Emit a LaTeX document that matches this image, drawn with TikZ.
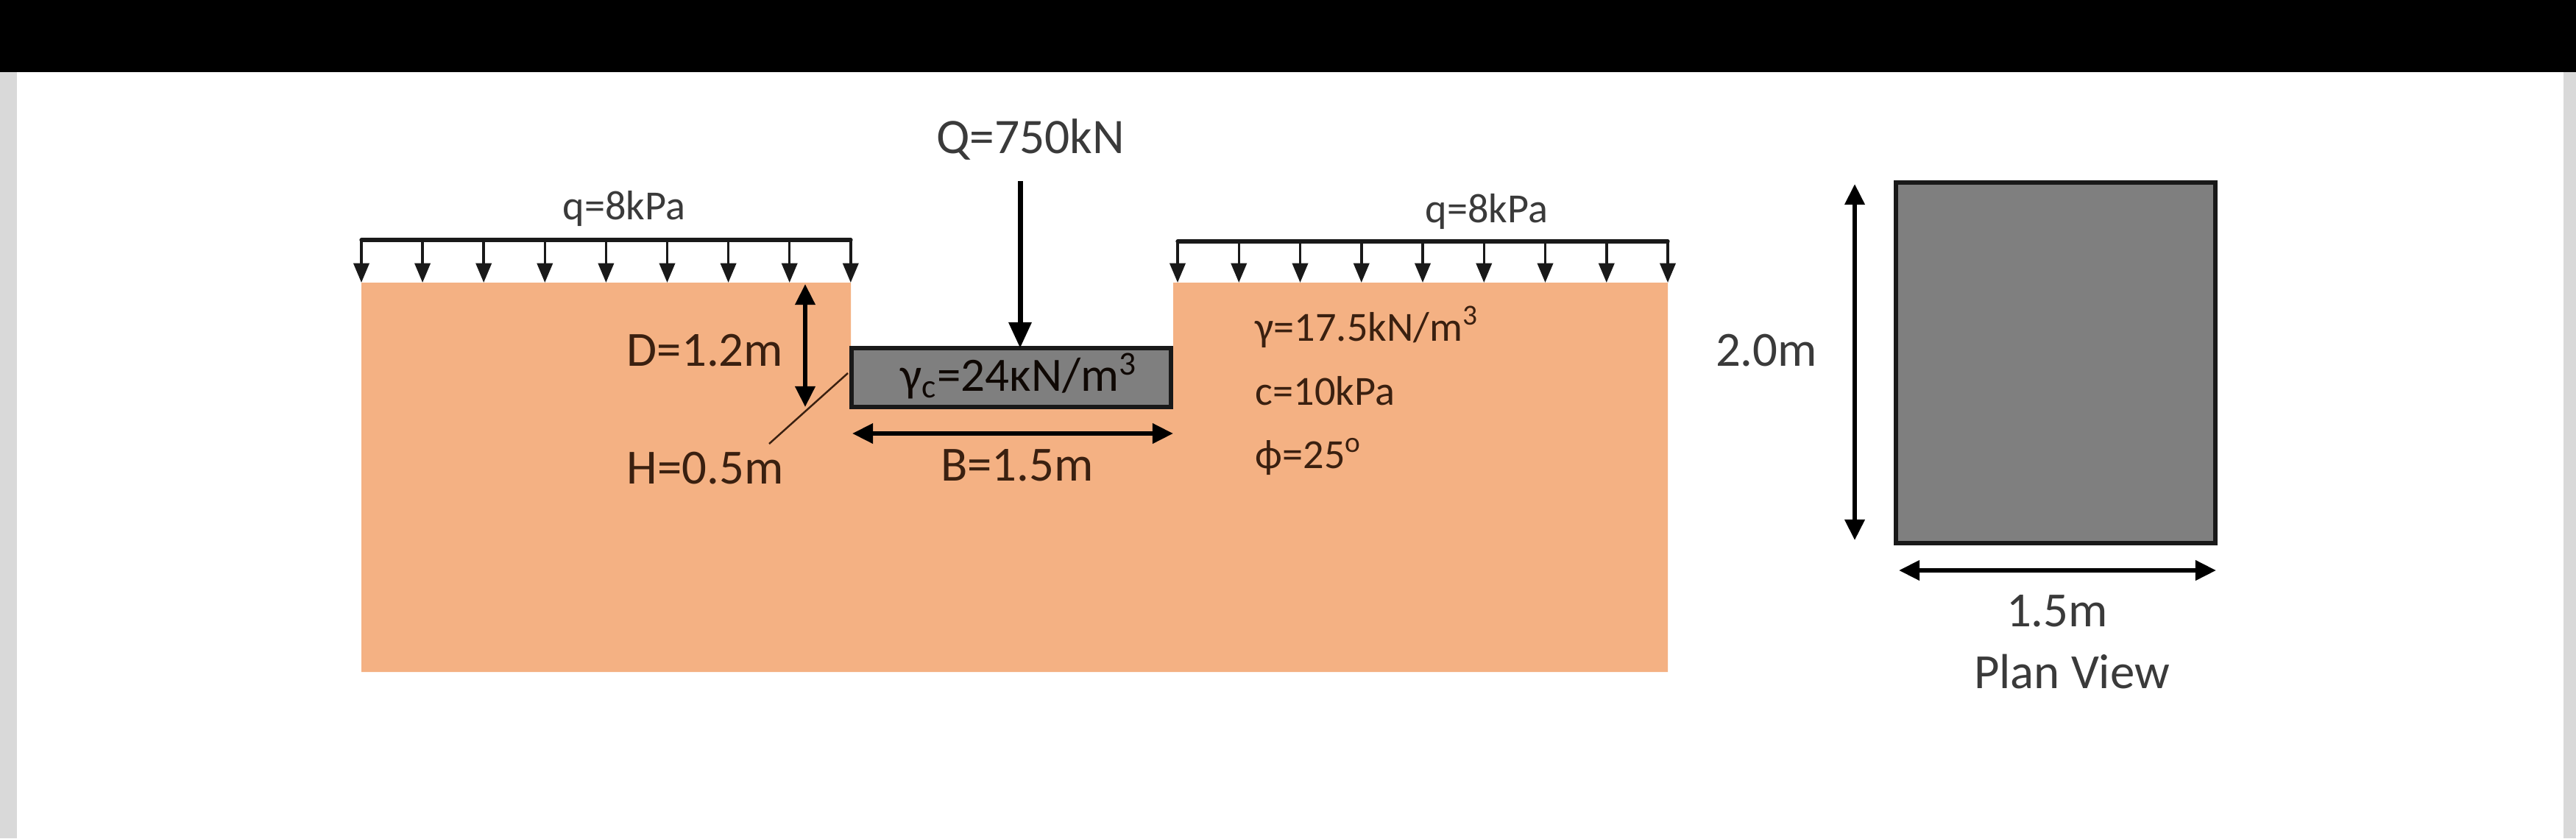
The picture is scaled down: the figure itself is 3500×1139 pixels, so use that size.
\documentclass[tikz,border=0pt]{standalone}
\usepackage{fontspec}
\setmainfont{Carlito}
\usetikzlibrary{arrows.meta}
\definecolor{soil}{HTML}{F4B183}
\definecolor{conc}{HTML}{7F7F7F}
\definecolor{inkw}{HTML}{3A3A3A}
\definecolor{inks}{HTML}{3A2010}
\definecolor{edgeg}{HTML}{D9D9D9}
\tikzset{
  x=0.01cm,y=-0.01cm,
  lab/.style={inner sep=0pt,text=inkw,font=\fontsize{19pt}{22pt}\selectfont},
  labs/.style={lab,text=inks},
  small/.style={font=\fontsize{16pt}{19pt}\selectfont},
  big/.style={font=\fontsize{19.2pt}{23pt}\selectfont},
  loadbar/.style={line width=1.5pt,black!90,line cap=round},
  loadarrow/.style={line width=1pt,black!90,-{Triangle[length=7.5pt,width=6pt]}},
  dim/.style={line width=1.7pt,black,{Triangle[length=8pt,width=7.5pt]}-{Triangle[length=8pt,width=7.5pt]}},
  slab/.style={draw=black!90,line width=1.6pt,fill=conc,inner sep=0pt,outer sep=0pt,anchor=north west},
}
\begin{document}
\begin{tikzpicture}
\useasboundingbox (0,0) rectangle (3500,1139);
% page surround
\fill[white] (0,0) rectangle (3500,1139);
\fill[edgeg] (0,98) rectangle (23,1139);
\fill[edgeg] (3483,98) rectangle (3500,1139);
\fill[black] (0,0) rectangle (3500,98);
% soil
\fill[soil] (491,384) -- (1156,384) -- (1156,553) -- (1594,553) -- (1594,384) -- (2266,384) -- (2266,913) -- (491,913) -- cycle;
% footing
\node[slab,minimum width=4.34cm,minimum height=0.8cm] (footing) at (1157,473) {};
\node[lab,text=black!75!inks,font=\fontsize{18.5pt}{22pt}\selectfont] (gammac) at (1384,511) {γ\textsubscript{c}=24κN/m\textsuperscript{3}};
% plan
\node[slab,minimum width=4.34cm,minimum height=4.9cm] (plan) at (2576,248) {};
% left load
\coordinate (lla) at (491,326);
\coordinate (llb) at (1156,326);
\draw[loadbar] (lla) -- (llb);
\foreach \i in {0,...,8}{
  \coordinate (ll\i) at ({491+\i*83.1},326);
  \coordinate (llt\i) at ({491+\i*83.1},384);
  \draw[loadarrow] (ll\i) -- (llt\i);
}
\node[lab,small] (qleft) at (848,283) {q=8kPa};
% right load
\coordinate (rla) at (1600,328);
\coordinate (rlb) at (2266,328);
\draw[loadbar] (rla) -- (rlb);
\foreach \i in {0,...,8}{
  \coordinate (rl\i) at ({1600+\i*83.25},328);
  \coordinate (rlt\i) at ({1600+\i*83.25},384);
  \draw[loadarrow] (rl\i) -- (rlt\i);
}
\node[lab,small] (qright) at (2020,287) {q=8kPa};
% column load
\node[lab,big] (Q) at (1400,190) {Q=750kN};
\coordinate (Qs) at (1386,246);
\coordinate (Qe) at (1386,473);
\draw[line width=2pt,black,-{Triangle[length=10pt,width=8.5pt]}] (Qs) -- (Qe);
% D
\coordinate (Da) at (1094,386);
\coordinate (Db) at (1094,553);
\draw[dim] (Da) -- (Db);
\node[labs] (D) at (958,476) {D=1.2m};
% H
\node[labs] (H) at (958,636) {H=0.5m};
\coordinate (Hs) at (1045,603);
\coordinate (He) at (1152,507);
\draw[line width=0.7pt,inks] (Hs) -- (He);
% B
\coordinate (Ba) at (1158,589);
\coordinate (Bb) at (1594,589);
\draw[dim] (Ba) -- (Bb);
\node[labs] (B) at (1382,632) {B=1.5m};
% soil properties
\node[labs,small,anchor=west] (pg) at (1705,444) {γ=17.5kN/m\textsuperscript{3}};
\node[labs,small,anchor=west] (pc) at (1705,531) {c=10kPa};
\node[labs,small,anchor=west] (pf) at (1705,620) {ϕ=25\textsuperscript{o}};
% plan dims
\coordinate (Pa) at (2520,250);
\coordinate (Pb) at (2520,734);
\draw[dim] (Pa) -- (Pb);
\node[lab] (L) at (2400,476) {2.0m};
\coordinate (Pc) at (2580,775);
\coordinate (Pd) at (3011,775);
\draw[dim] (Pc) -- (Pd);
\node[lab] (W) at (2795,830) {1.5m};
\node[lab] (PV) at (2815,913) {Plan View};
\end{tikzpicture}
\end{document}
